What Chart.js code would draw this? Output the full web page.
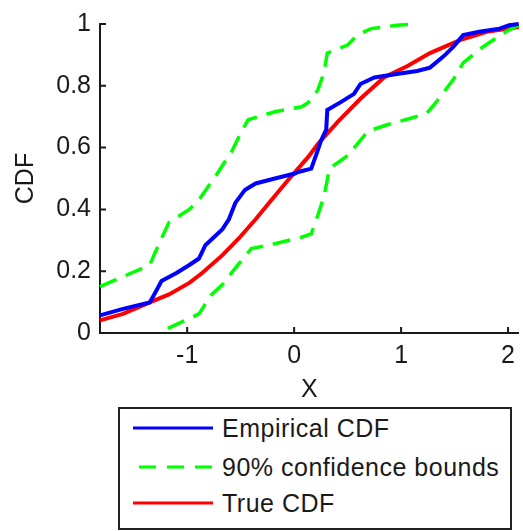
<!DOCTYPE html>
<html>
<head>
<meta charset="utf-8">
<script src="https://cdn.jsdelivr.net/npm/chart.js@4.4.1/dist/chart.umd.min.js"></script>
<style>
  body { margin: 0; background: #fff; }
  #wrap { position: relative; width: 523px; height: 531px; }
  #legend {
    position: absolute; left: 118px; top: 407px; width: 394px; height: 123px;
    border: 2px solid #222; box-sizing: border-box; background: #fff;
    font-family: "Liberation Sans", Arial, sans-serif; font-size: 25px; color: #1a1a1a;
    letter-spacing: 0.5px;
  }
  .row { position: absolute; left: 13px; height: 30px; display: flex; align-items: center; white-space: nowrap; }
  .row svg { margin-right: 9px; }
</style>
</head>
<body>
<div id="wrap">
  <canvas id="c" width="523" height="531"></canvas>
  <div id="legend"></div>
</div>
<script>
// data
const empX = [-1.815, -1.6, -1.35, -1.29, -1.24, -1.10, -0.98, -0.89, -0.83, -0.67, -0.61, -0.55, -0.46, -0.36, -0.18, 0.006, 0.04, 0.16, 0.22, 0.25, 0.30, 0.31, 0.44, 0.56, 0.62, 0.75, 0.96, 1.15, 1.27, 1.40, 1.49, 1.58, 1.73, 1.92, 2.01, 2.10];
const empY = [0.057, 0.078, 0.099, 0.136, 0.168, 0.194, 0.22, 0.241, 0.284, 0.336, 0.368, 0.421, 0.463, 0.484, 0.50, 0.516, 0.521, 0.532, 0.59, 0.621, 0.658, 0.722, 0.748, 0.774, 0.806, 0.827, 0.838, 0.848, 0.859, 0.896, 0.927, 0.964, 0.975, 0.985, 0.996, 1.0];

const trueX = [-1.815, -1.6, -1.35, -1.17, -0.98, -0.86, -0.67, -0.52, -0.36, -0.21, -0.056, 0.13, 0.22, 0.41, 0.62, 0.84, 1.06, 1.27, 1.55, 1.80, 2.10];
const trueY = [0.041, 0.062, 0.099, 0.125, 0.162, 0.194, 0.252, 0.305, 0.368, 0.431, 0.495, 0.569, 0.611, 0.684, 0.758, 0.827, 0.864, 0.906, 0.948, 0.975, 0.99];

const upperX = [-1.815, -1.35, -1.29, -1.17, -0.98, -0.89, -0.73, -0.58, -0.49, -0.43, -0.18, 0.07, 0.13, 0.22, 0.28, 0.31, 0.50, 0.59, 0.72, 0.96, 1.15];
const upperY = [0.15, 0.22, 0.268, 0.358, 0.40, 0.431, 0.51, 0.59, 0.653, 0.69, 0.716, 0.732, 0.745, 0.785, 0.843, 0.906, 0.932, 0.964, 0.985, 0.996, 1.0];

const lowerX = [-1.18, -0.98, -0.89, -0.77, -0.67, -0.55, -0.40, -0.18, 0.07, 0.16, 0.22, 0.28, 0.33, 0.50, 0.59, 0.69, 0.87, 1.09, 1.24, 1.33, 1.49, 1.58, 1.73, 1.86, 1.98, 2.10];
const lowerY = [0.015, 0.047, 0.062, 0.125, 0.157, 0.21, 0.273, 0.289, 0.31, 0.321, 0.379, 0.442, 0.532, 0.574, 0.611, 0.653, 0.674, 0.695, 0.711, 0.748, 0.821, 0.874, 0.917, 0.948, 0.975, 0.996];

const xTicks = [-1, 0, 1, 2];
const yTicks = [0, 0.2, 0.4, 0.6, 0.8, 1];
const seriesLabels = ["Empirical CDF", "90% confidence bounds", "True CDF"];

const pts = (xs, ys) => xs.map((x, i) => ({ x: x, y: ys[i] }));
const FONT = { family: '"Liberation Sans", Arial, sans-serif', size: 25 };
const INK = '#1a1a1a';

// matlab style ticks pointing into the axes
const inwardTicks = {
  id: 'inwardTicks',
  afterDatasetsDraw(chart) {
    const { ctx, chartArea: a, scales: { x, y } } = chart;
    ctx.save();
    ctx.strokeStyle = INK;
    ctx.lineWidth = 2;
    ctx.beginPath();
    x.ticks.forEach(t => {
      const px = x.getPixelForValue(t.value);
      ctx.moveTo(px, a.bottom);
      ctx.lineTo(px, a.bottom - 6);
    });
    y.ticks.forEach(t => {
      const py = y.getPixelForValue(t.value);
      ctx.moveTo(a.left, py);
      ctx.lineTo(a.left + 6, py);
    });
    ctx.stroke();
    ctx.restore();
  }
};

new Chart(document.getElementById('c'), {
  type: 'scatter',
  data: {
    datasets: [
      { label: seriesLabels[0], data: pts(empX, empY), borderColor: '#0000ff', borderWidth: 4 },
      { label: seriesLabels[1], data: pts(upperX, upperY), borderColor: '#00ff00', borderWidth: 3.5, borderDash: [18, 10] },
      { label: seriesLabels[1], data: pts(lowerX, lowerY), borderColor: '#00ff00', borderWidth: 3.5, borderDash: [18, 10] },
      { label: seriesLabels[2], data: pts(trueX, trueY), borderColor: '#ff0000', borderWidth: 4 },
    ].map(d => Object.assign(d, { showLine: true, pointRadius: 0, tension: 0, clip: 5 }))
  },
  options: {
    responsive: false,
    animation: false,
    layout: { padding: { top: 17, right: 0, bottom: 126, left: 0 } },
    plugins: { legend: { display: false }, tooltip: { enabled: false } },
    scales: {
      x: {
        type: 'linear', min: -1.815, max: 2.1,
        afterBuildTicks: s => { s.ticks = xTicks.map(v => ({ value: v })); },
        afterFit: s => { s.height = 72; },
        grid: { display: false, drawTicks: false },
        border: { color: INK, width: 2 },
        ticks: { font: FONT, color: INK, padding: 8, callback: v => String(v) },
        title: { display: true, text: 'X', font: FONT, color: INK, padding: 0 }
      },
      y: {
        type: 'linear', min: 0, max: 1,
        afterBuildTicks: s => { s.ticks = yTicks.map(v => ({ value: v })); },
        afterFit: s => { s.width = 100; },
        grid: { display: false, drawTicks: false },
        border: { color: INK, width: 2 },
        ticks: { font: FONT, color: INK, padding: 9, callback: v => String(v) },
        title: { display: true, text: 'CDF', font: FONT, color: INK, padding: { top: 11, bottom: 0 } }
      }
    }
  },
  plugins: [inwardTicks]
});

// boxed legend under the axes
const legendRows = [
  { text: seriesLabels[0], color: '#0000ff', dash: '' },
  { text: seriesLabels[1], color: '#00ff00', dash: '17 11' },
  { text: seriesLabels[2], color: '#ff0000', dash: '' },
];
const rowTops = [4, 43, 79];
const legend = document.getElementById('legend');
legendRows.forEach((r, i) => {
  const row = document.createElement('div');
  row.className = 'row';
  row.style.top = rowTops[i] + 'px';
  row.innerHTML =
    '<svg width="80" height="6"><line x1="' + (r.dash ? 6 : 0) + '" y1="3" x2="80" y2="3" stroke="' + r.color +
    '" stroke-width="3"' + (r.dash ? ' stroke-dasharray="' + r.dash + '"' : '') + '/></svg><span>' + r.text + '</span>';
  legend.appendChild(row);
});
</script>
</body>
</html>
